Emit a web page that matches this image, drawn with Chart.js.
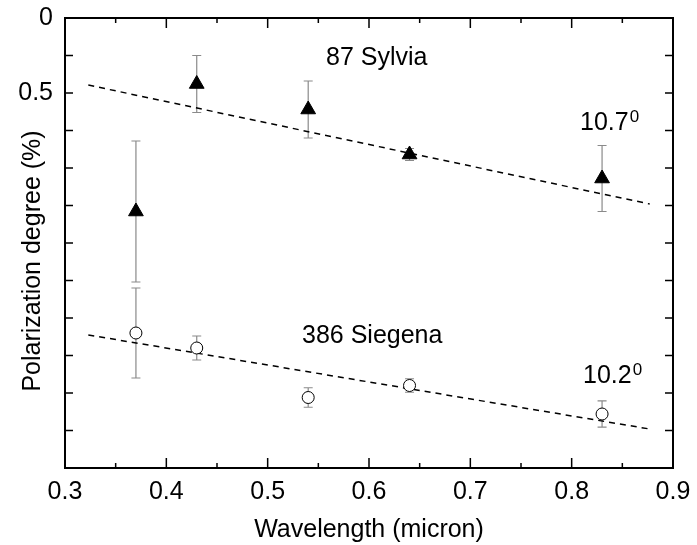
<!DOCTYPE html>
<html>
<head>
<meta charset="utf-8">
<title>Polarization degree vs wavelength</title>
<script src="https://cdn.jsdelivr.net/npm/chart.js@4.4.1/dist/chart.umd.min.js"></script>
<style>
    body { margin: 0; background: #fff; }
    #wrap { width: 697px; height: 545px; }
</style>
</head>
<body>
<div id="wrap"><canvas id="polChart" width="697" height="545"></canvas></div>
<script>
// wavelengths (micron)
var wavelengths = [0.37, 0.43, 0.54, 0.64, 0.83];

// 87 Sylvia, phase angle 10.7 deg
var sylviaPol = [1.29, 0.44, 0.61, 0.91, 1.07];
var sylviaErr = [0.47, 0.19, 0.19, 0.04, 0.22];

// 386 Siegena, phase angle 10.2 deg
var siegenaPol = [2.10, 2.20, 2.53, 2.45, 2.64];
var siegenaErr = [0.30, 0.08, 0.065, 0.045, 0.087];

// linear fits (end points)
var fitX = [0.323, 0.877];
var sylviaFit = [0.447, 1.24];
var siegenaFit = [2.113, 2.74];

var yLabelled = [0, 0.5];

// text placed in data units: left edge + baseline
var notes = [
    { text: '87 Sylvia', x: 0.5576, y: 0.313, sup: '' },
    { text: '10.7', x: 0.8082, y: 0.747, sup: '0' },
    { text: '386 Siegena', x: 0.5339, y: 2.167, sup: '' },
    { text: '10.2', x: 0.8112, y: 2.433, sup: '0' }
];

var FONT = '"Liberation Sans", Arial, Helvetica, sans-serif';
Chart.defaults.font.family = FONT;
Chart.defaults.color = '#000';

function toPoints(xs, ys) {
    var out = [];
    for (var i = 0; i < xs.length; i++) out.push({ x: xs[i], y: ys[i] });
    return out;
}

function isTenth(v) {
    return Math.abs(v * 10 - Math.round(v * 10)) < 1e-6;
}

// error bars, drawn under the markers
var errorBars = {
    id: 'errorBars',
    beforeDatasetsDraw: function (chart) {
        var ctx = chart.ctx, xs = chart.scales.x, ys = chart.scales.y;
        var sets = [[sylviaPol, sylviaErr], [siegenaPol, siegenaErr]];
        ctx.save();
        ctx.strokeStyle = '#8a8a8a';
        ctx.lineWidth = 1.2;
        sets.forEach(function (s) {
            for (var i = 0; i < wavelengths.length; i++) {
                var px = xs.getPixelForValue(wavelengths[i]);
                var y1 = ys.getPixelForValue(s[0][i] - s[1][i]);
                var y2 = ys.getPixelForValue(s[0][i] + s[1][i]);
                ctx.beginPath();
                ctx.moveTo(px, y1); ctx.lineTo(px, y2);
                ctx.moveTo(px - 4.5, y1); ctx.lineTo(px + 4.5, y1);
                ctx.moveTo(px - 4.5, y2); ctx.lineTo(px + 4.5, y2);
                ctx.stroke();
            }
        });
        ctx.restore();
    }
};

// box frame, inward ticks, notes and the y title
var frame = {
    id: 'frame',
    afterDraw: function (chart) {
        var ctx = chart.ctx, a = chart.chartArea;
        var xs = chart.scales.x, ys = chart.scales.y;
        ctx.save();
        ctx.strokeStyle = '#000';
        ctx.lineWidth = 1.5;
        ctx.beginPath();
        xs.ticks.forEach(function (t) {
            var px = xs.getPixelForValue(t.value);
            if (px <= a.left + 1 || px >= a.right - 1) return;
            var len = isTenth(t.value) ? 10 : 5;
            ctx.moveTo(px, a.bottom); ctx.lineTo(px, a.bottom - len);
            ctx.moveTo(px, a.top); ctx.lineTo(px, a.top + len);
        });
        ys.ticks.forEach(function (t) {
            var py = ys.getPixelForValue(t.value);
            if (py <= a.top + 1 || py >= a.bottom - 1) return;
            ctx.moveTo(a.left, py); ctx.lineTo(a.left + 8, py);
            ctx.moveTo(a.right, py); ctx.lineTo(a.right - 8, py);
        });
        ctx.stroke();
        ctx.lineWidth = 2;
        ctx.strokeRect(a.left, a.top, a.right - a.left, a.bottom - a.top);

        ctx.fillStyle = '#000';
        ctx.textBaseline = 'alphabetic';
        ctx.textAlign = 'left';
        notes.forEach(function (n) {
            var px = xs.getPixelForValue(n.x), py = ys.getPixelForValue(n.y);
            ctx.font = '25px ' + FONT;
            ctx.fillText(n.text, px, py);
            if (n.sup) {
                var w = ctx.measureText(n.text).width;
                ctx.font = '17px ' + FONT;
                ctx.fillText(n.sup, px + w + 1, py - 8);
            }
        });

        ctx.font = '25px ' + FONT;
        ctx.textAlign = 'center';
        ctx.textBaseline = 'middle';
        ctx.translate(33, (a.top + a.bottom) / 2 + 18);
        ctx.rotate(-Math.PI / 2);
        ctx.fillText('Polarization degree (%)', 0, 0);
        ctx.restore();
    }
};

new Chart('polChart', {
    type: 'scatter',
    data: {
        datasets: [
            {
                label: '87 Sylvia',
                data: toPoints(wavelengths, sylviaPol),
                pointStyle: 'triangle',
                pointRadius: 8.5,
                backgroundColor: '#000',
                borderColor: '#000',
                borderWidth: 1,
                order: 1
            },
            {
                label: '386 Siegena',
                data: toPoints(wavelengths, siegenaPol),
                pointStyle: 'circle',
                pointRadius: 6,
                backgroundColor: '#fff',
                borderColor: '#000',
                borderWidth: 1,
                order: 1
            },
            {
                label: 'Sylvia fit',
                data: toPoints(fitX, sylviaFit),
                showLine: true,
                pointRadius: 0,
                borderColor: '#000',
                borderWidth: 1.5,
                borderDash: [6, 5],
                order: 2
            },
            {
                label: 'Siegena fit',
                data: toPoints(fitX, siegenaFit),
                showLine: true,
                pointRadius: 0,
                borderColor: '#000',
                borderWidth: 1.5,
                borderDash: [6, 5],
                order: 2
            }
        ]
    },
    options: {
        responsive: false,
        animation: false,
        layout: { padding: { left: 0, right: 24, top: 18, bottom: 0 } },
        plugins: {
            legend: { display: false },
            tooltip: { enabled: false }
        },
        scales: {
            x: {
                type: 'linear',
                min: 0.3,
                max: 0.9,
                grid: { display: false, drawTicks: false },
                border: { display: false },
                ticks: {
                    stepSize: 0.05,
                    padding: 9,
                    autoSkip: false,
                    maxRotation: 0,
                    font: { size: 25 },
                    callback: function (v) { return isTenth(v) ? v.toFixed(1) : ''; }
                },
                title: {
                    display: true,
                    text: 'Wavelength (micron)',
                    font: { size: 25 },
                    padding: { top: 0, bottom: 0 }
                },
                afterFit: function (s) { s.height = 77; s.paddingLeft = 0; s.paddingRight = 0; }
            },
            y: {
                type: 'linear',
                reverse: true,
                min: 0,
                max: 3,
                grid: { display: false, drawTicks: false },
                border: { display: false },
                ticks: {
                    stepSize: 0.25,
                    padding: 12,
                    autoSkip: false,
                    font: { size: 25 },
                    callback: function (v) { return yLabelled.indexOf(v) >= 0 ? String(v) : ''; }
                },
                afterFit: function (s) { s.width = 65; s.paddingTop = 0; s.paddingBottom = 0; }
            }
        }
    },
    plugins: [errorBars, frame]
});
</script>
</body>
</html>
